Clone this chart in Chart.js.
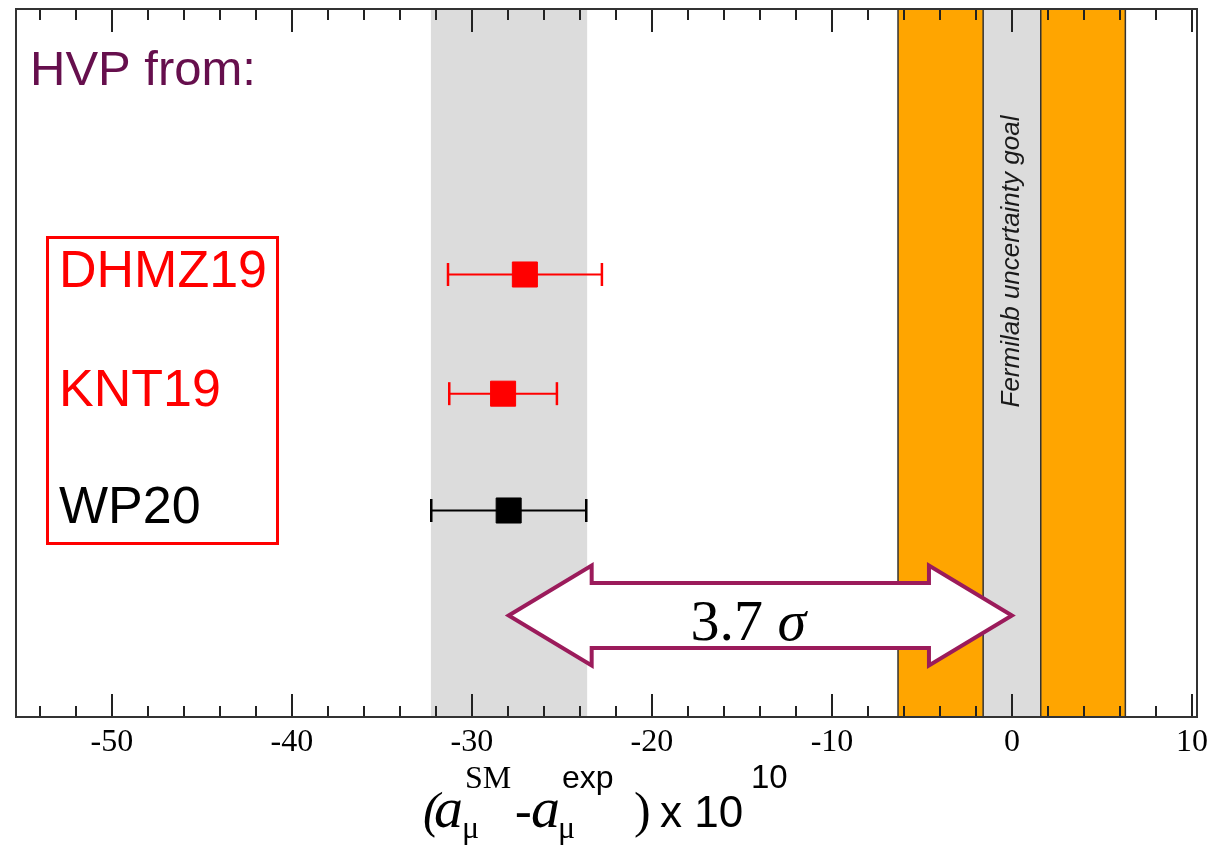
<!DOCTYPE html>
<html>
<head>
<meta charset="utf-8">
<script src="https://cdn.jsdelivr.net/npm/chart.js@4.4.1/dist/chart.umd.min.js"></script>
<style>
  html, body { margin: 0; padding: 0; background: #ffffff; }
  #wrap { width: 1211px; height: 847px; position: relative; }
</style>
</head>
<body>
<div id="wrap"><canvas id="c" width="1211" height="847"></canvas></div>
<script>
// ---- data (units of 10^-10) ----
const xRange = [-55.33, 10.28];
const majorTicks = [-50, -40, -30, -20, -10, 0, 10];
const minorTicks = [-54, -52, -48, -46, -44, -42, -38, -36, -34, -32, -28, -26, -24, -22,
                    -18, -16, -14, -12, -8, -6, -4, -2, 2, 4, 6, 8];

const groups      = ['DHMZ19', 'KNT19', 'WP20'];
const groupColors = ['#ff0000', '#ff0000', '#000000'];
const rowY        = [3.75, 2.74, 1.75];
const centers     = [-27.06, -28.27, -27.96];
const lowerEnds   = [-31.33, -31.26, -32.26];
const upperEnds   = [-22.78, -25.28, -23.65];

const smBand   = [-32.28, -23.60];   // SM (WP20) uncertainty band
const expBand  = [-6.33, 6.30];      // experimental uncertainty band
const goalBand = [-1.60, 1.60];      // Fermilab uncertainty goal
const gapArrow = [-27.96, 0];        // SM centre -> experiment
const arrowRowY = 0.86;
const arrowText = ['3.7', 'σ'];
const goalText = 'Fermilab uncertainty goal';
const goalTextY = 3.86;
const headerText = 'HVP from:';

// ---- datasets built from the arrays ----
const datasets = [];
groups.forEach((g, i) => {
  datasets.push({
    label: g + ' range',
    data: [{ x: lowerEnds[i], y: rowY[i] }, { x: upperEnds[i], y: rowY[i] }],
    showLine: true,
    borderColor: groupColors[i],
    borderWidth: 2,
    pointStyle: 'line',
    rotation: 90,
    pointRadius: 11.5,
    pointBorderWidth: 2.5,
    pointBorderColor: groupColors[i],
    order: 2
  });
});
groups.forEach((g, i) => {
  datasets.push({
    label: g,
    data: [{ x: centers[i], y: rowY[i] }],
    pointStyle: 'rect',
    pointRadius: 17.7,
    backgroundColor: groupColors[i],
    borderColor: groupColors[i],
    borderWidth: 1,
    order: 1
  });
});

// ---- drawing helpers ----
const decor = {
  id: 'decor',
  beforeDatasetsDraw(chart) {
    const { ctx, chartArea: a, scales: { x, y } } = chart;
    const top = a.top, bot = a.bottom, h = bot - top;
    ctx.save();
    // bands
    const band = (r, col) => {
      const x0 = x.getPixelForValue(r[0]), x1 = x.getPixelForValue(r[1]);
      ctx.fillStyle = col;
      ctx.fillRect(x0, top, x1 - x0, h);
    };
    band(smBand, '#dcdcdc');
    band(expBand, '#ffa500');
    band(goalBand, '#dcdcdc');
    ctx.strokeStyle = '#333333';
    ctx.lineWidth = 1.5;
    [expBand[0], goalBand[0], goalBand[1], expBand[1]].forEach(v => {
      const px = x.getPixelForValue(v);
      ctx.beginPath(); ctx.moveTo(px, top); ctx.lineTo(px, bot); ctx.stroke();
    });
    // vertical label inside the goal band
    ctx.translate(x.getPixelForValue((goalBand[0] + goalBand[1]) / 2), y.getPixelForValue(goalTextY));
    ctx.rotate(-Math.PI / 2);
    ctx.fillStyle = '#1a1a1a';
    ctx.font = 'italic 26px "Liberation Sans", Arial, sans-serif';
    ctx.textAlign = 'center';
    ctx.textBaseline = 'middle';
    ctx.fillText(goalText, 0, 0);
    ctx.restore();
  },
  afterDatasetsDraw(chart) {
    const { ctx, chartArea: a, scales: { x, y } } = chart;
    ctx.save();
    // tick marks on top and bottom edges (pointing inward)
    ctx.strokeStyle = '#222222';
    ctx.lineWidth = 2;
    const tick = (v, len) => {
      const px = Math.round(x.getPixelForValue(v));
      ctx.beginPath();
      ctx.moveTo(px, a.bottom); ctx.lineTo(px, a.bottom - len);
      ctx.moveTo(px, a.top); ctx.lineTo(px, a.top + len);
      ctx.stroke();
    };
    majorTicks.forEach(v => tick(v, 23));
    minorTicks.forEach(v => tick(v, 11));
    // frame
    ctx.strokeStyle = '#333333';
    ctx.lineWidth = 2;
    ctx.strokeRect(a.left, a.top, a.right - a.left, a.bottom - a.top);

    // double arrow between SM centre and experiment
    const xl = x.getPixelForValue(gapArrow[0]);
    const xr = x.getPixelForValue(gapArrow[1]);
    const ym = y.getPixelForValue(arrowRowY);
    const headL = 83, headH = 50, shaftH = 32.5;
    ctx.beginPath();
    ctx.moveTo(xl, ym);
    ctx.lineTo(xl + headL, ym - headH);
    ctx.lineTo(xl + headL, ym - shaftH);
    ctx.lineTo(xr - headL, ym - shaftH);
    ctx.lineTo(xr - headL, ym - headH);
    ctx.lineTo(xr, ym);
    ctx.lineTo(xr - headL, ym + headH);
    ctx.lineTo(xr - headL, ym + shaftH);
    ctx.lineTo(xl + headL, ym + shaftH);
    ctx.lineTo(xl + headL, ym + headH);
    ctx.closePath();
    ctx.fillStyle = '#ffffff';
    ctx.fill();
    ctx.lineWidth = 4;
    ctx.lineJoin = 'miter';
    ctx.strokeStyle = '#9b1b5b';
    ctx.stroke();

    // significance text
    ctx.fillStyle = '#000000';
    ctx.textBaseline = 'alphabetic';
    ctx.textAlign = 'left';
    ctx.font = '58px "Liberation Serif", "Times New Roman", serif';
    const w1 = ctx.measureText(arrowText[0] + ' ').width;
    ctx.font = 'italic 58px "Liberation Serif", "Times New Roman", serif';
    const w2 = ctx.measureText(arrowText[1]).width;
    const tx = (xl + xr) / 2 - 12 - (w1 + w2) / 2;
    const tb = ym + 24;
    ctx.font = '58px "Liberation Serif", "Times New Roman", serif';
    ctx.fillText(arrowText[0], tx, tb);
    ctx.font = 'italic 58px "Liberation Serif", "Times New Roman", serif';
    ctx.fillText(arrowText[1], tx + w1, tb);

    // header
    ctx.fillStyle = '#660f4d';
    ctx.font = '49px "Liberation Sans", Arial, sans-serif';
    ctx.fillText(headerText, a.left + 14, a.top + 76);

    // group labels in a box
    ctx.font = '52px "Liberation Sans", Arial, sans-serif';
    groups.forEach((g, i) => {
      ctx.fillStyle = groupColors[i];
      ctx.fillText(g, a.left + 43, y.getPixelForValue(rowY[i]) + 12);
    });
    ctx.strokeStyle = '#ff0000';
    ctx.lineWidth = 3;
    ctx.strokeRect(a.left + 31.5, 237.5, 230, 306);

    // axis title: (a_mu^SM - a_mu^exp) x 10^10
    const serif = '"Liberation Serif", "Times New Roman", serif';
    const sans = '"Liberation Sans", Arial, sans-serif';
    const pieces = [
      ['(', 'italic 50px ' + serif, 423, 827],
      ['a', 'italic 58px ' + serif, 434, 827],
      ['SM', '32px ' + serif, 465, 788],
      ['μ', '32px ' + serif, 462, 838],
      ['-', '50px ' + serif, 515, 827],
      ['a', 'italic 58px ' + serif, 531, 827],
      ['exp', '32px ' + sans, 562, 788],
      ['μ', '32px ' + serif, 558, 838],
      [')', '50px ' + serif, 634, 827],
      ['x 10', '44px ' + sans, 660, 827],
      ['10', '33px ' + sans, 751, 788]
    ];
    ctx.fillStyle = '#000000';
    pieces.forEach(p => { ctx.font = p[1]; ctx.fillText(p[0], p[2], p[3]); });
    ctx.restore();
  }
};

new Chart(document.getElementById('c'), {
  type: 'scatter',
  data: { datasets },
  options: {
    responsive: false,
    devicePixelRatio: 1,
    animation: false,
    events: [],
    layout: { autoPadding: false, padding: { top: 9, left: 16, right: 14, bottom: 0 } },
    plugins: { legend: { display: false }, tooltip: { enabled: false } },
    scales: {
      x: {
        type: 'linear',
        min: xRange[0],
        max: xRange[1],
        afterBuildTicks: s => { s.ticks = majorTicks.map(v => ({ value: v })); },
        afterFit: s => { s.height = 130; s.paddingLeft = 0; s.paddingRight = 0; },
        grid: { display: false, drawTicks: false },
        border: { display: false },
        ticks: {
          autoSkip: false,
          maxRotation: 0,
          padding: 6,
          color: '#000000',
          font: { family: '"Liberation Serif", "Times New Roman", serif', size: 32 }
        }
      },
      y: { type: 'linear', min: 0, max: 6, display: false }
    }
  },
  plugins: [decor]
});
</script>
</body>
</html>
